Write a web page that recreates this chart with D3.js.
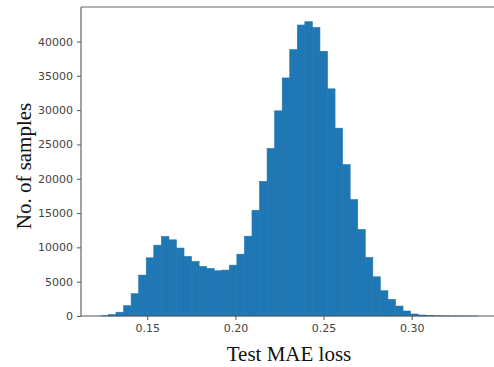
<!DOCTYPE html>
<html>
<head>
<meta charset="utf-8">
<script src="https://cdn.jsdelivr.net/npm/d3@7"></script>
<style>
  html, body { margin: 0; padding: 0; background: #fff; }
  svg { display: block; }
</style>
</head>
<body>
<script>
// ---- data (50 bins) ----
const binStart = 0.1237;      // left edge of first bin (Test MAE loss)
const binWidth = 0.004285;    // width of every bin
const counts = [
  30, 200, 550, 1500, 3250, 5960, 8480, 10320, 11580, 11100,
  9900, 8680, 7950, 7220, 6930, 6590, 6690, 7410, 9010, 11630,
  15410, 19620, 24420, 29890, 34690, 38810, 42400, 42880, 42050, 38570,
  33100, 27370, 22050, 16960, 12600, 8530, 5710, 3680, 2420, 1450,
  730, 290, 145, 60, 30, 15, 8, 4, 2, 1
];
const xTicks = [0.15, 0.20, 0.25, 0.30];
const yTicks = [0, 5000, 10000, 15000, 20000, 25000, 30000, 35000, 40000];
const xLabel = "Test MAE loss";
const yLabel = "No. of samples";

// ---- layout ----
const W = 494, H = 367;
const mLeft = 81, mTop = 7, mBottom = 316, mRight = 497.5;

const bins = counts.map((c, i) => ({
  x0: binStart + i * binWidth,
  x1: binStart + (i + 1) * binWidth,
  n: c
}));

const x = d3.scaleLinear().domain([0.1124, 0.3487]).range([mLeft, mRight]);
const y = d3.scaleLinear().domain([0, d3.max(counts) * 1.05]).range([mBottom, mTop]);

const svg = d3.select("body").append("svg")
  .attr("width", W).attr("height", H);

// bars
svg.append("g").selectAll("rect").data(bins).join("rect")
  .attr("x", d => x(d.x0))
  .attr("width", d => x(d.x1) - x(d.x0))
  .attr("y", d => y(d.n))
  .attr("height", d => mBottom - y(d.n))
  .attr("fill", "#1f77b4")
  .attr("stroke", "#1f77b4")
  .attr("stroke-width", 0.6);

// axes
const tickColor = "#555";
const xAxis = svg.append("g").attr("transform", `translate(0,${mBottom})`)
  .call(d3.axisBottom(x).tickValues(xTicks).tickFormat(d3.format(".2f")).tickSize(4).tickPadding(4));
const yAxis = svg.append("g").attr("transform", `translate(${mLeft},0)`)
  .call(d3.axisLeft(y).tickValues(yTicks).tickFormat(d3.format("d")).tickSize(4).tickPadding(4));

[xAxis, yAxis].forEach(g => {
  g.select(".domain").remove();
  g.selectAll(".tick line").attr("stroke", tickColor).attr("stroke-width", 1);
  g.selectAll(".tick text")
    .attr("fill", "#444")
    .style("font-family", "'DejaVu Sans', sans-serif")
    .style("font-size", "11px");
});

// frame (spines)
const spine = svg.append("g").attr("stroke", "#666").attr("stroke-width", 1.2).attr("fill", "none");
spine.append("line").attr("x1", mLeft).attr("x2", mLeft).attr("y1", mTop).attr("y2", mBottom);
spine.append("line").attr("x1", mLeft).attr("x2", mRight).attr("y1", mTop).attr("y2", mTop);
spine.append("line").attr("x1", mLeft).attr("x2", mRight).attr("y1", mBottom).attr("y2", mBottom).attr("stroke", "#555");

// axis titles
svg.append("text")
  .attr("x", 289).attr("y", 361)
  .attr("text-anchor", "middle")
  .style("font-family", "'Liberation Serif', 'Times New Roman', serif")
  .style("font-size", "21px")
  .attr("fill", "#111")
  .text(xLabel);

svg.append("text")
  .attr("transform", "translate(31,166) rotate(-90)")
  .attr("text-anchor", "middle")
  .style("font-family", "'Liberation Serif', 'Times New Roman', serif")
  .style("font-size", "21px")
  .attr("fill", "#111")
  .text(yLabel);
</script>
</body>
</html>
